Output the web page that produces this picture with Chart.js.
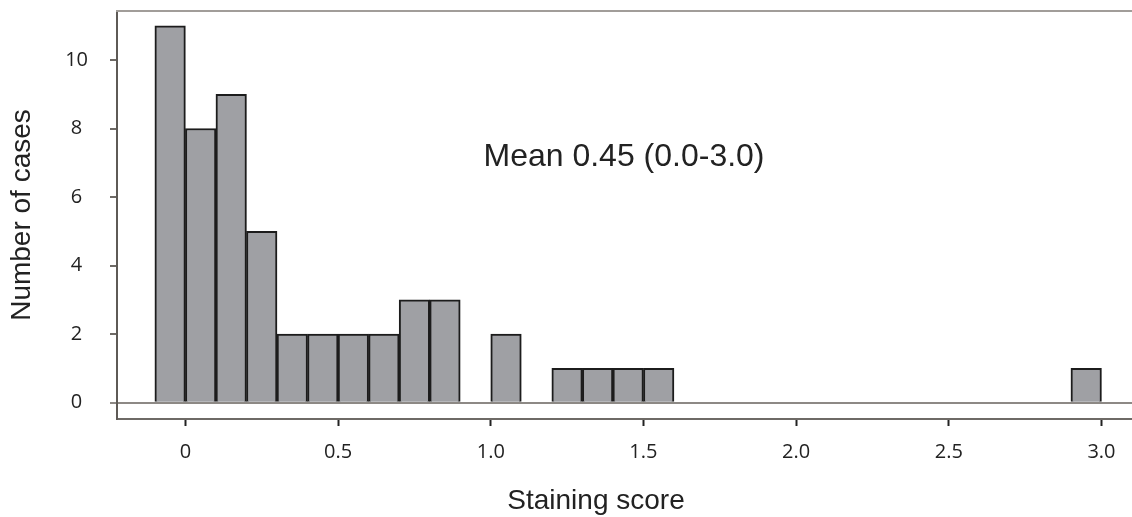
<!DOCTYPE html>
<html>
<head>
<meta charset="utf-8">
<script src="https://cdn.jsdelivr.net/npm/chart.js@4.4.1/dist/chart.umd.min.js"></script>
<style>
  html, body { margin: 0; padding: 0; background: #fff; }
  #wrap { width: 1132px; height: 517px; position: relative; }
</style>
</head>
<body>
<div id="wrap"><canvas id="hist"></canvas></div>
<script>
// histogram bins (left edge of each 0.1-wide bin) and number of cases in it
const binStart = [-0.1, 0, 0.1, 0.2, 0.3, 0.4, 0.5, 0.6, 0.7, 0.8, 1.0, 1.2, 1.3, 1.4, 1.5, 2.9];
const counts = [11, 8, 9, 5, 2, 2, 2, 2, 3, 3, 2, 1, 1, 1, 1, 1];
const binWidth = 0.1;

const xTicks = [0, 0.5, 1.0, 1.5, 2.0, 2.5, 3.0];
const yTicks = [0, 2, 4, 6, 8, 10];

const xTitle = "Staining score";
const yTitle = "Number of cases";
const note = "Mean 0.45 (0.0-3.0)";

const points = binStart.map((s, i) => ({ x: s + binWidth / 2, y: counts[i] }));

// top border of the frame, x title and the mean label
const extras = {
  id: "extras",
  afterDraw(chart) {
    const { ctx, chartArea } = chart;
    ctx.save();
    ctx.strokeStyle = "#a19d99";
    ctx.lineWidth = 2;
    ctx.beginPath();
    ctx.moveTo(chartArea.left - 1, chartArea.top);
    ctx.lineTo(chartArea.right, chartArea.top);
    ctx.stroke();

    ctx.fillStyle = "#222";
    ctx.textAlign = "center";
    ctx.textBaseline = "middle";
    ctx.font = "28px 'Liberation Sans', Arial, sans-serif";
    ctx.fillText(xTitle, 596, 501);

    ctx.font = "32px 'Liberation Sans', Arial, sans-serif";
    ctx.fillText(note, 624, 157);
    ctx.restore();
  }
};

const tickFont = { family: "'Open Sans', sans-serif", size: 20 };

new Chart(document.getElementById("hist"), {
  type: "bar",
  data: {
    datasets: [{
      data: points,
      backgroundColor: "#9fa0a4",
      borderColor: "#1c1c1c",
      borderWidth: 2,
      barPercentage: 1,
      categoryPercentage: 1
    }]
  },
  options: {
    responsive: true,
    maintainAspectRatio: false,
    animation: false,
    layout: { padding: { top: 11, right: 0, bottom: 0, left: 0 } },
    plugins: { legend: { display: false }, tooltip: { enabled: false } },
    scales: {
      x: {
        type: "linear",
        min: -0.224,
        max: 3.1,
        offset: false,
        afterBuildTicks: s => { s.ticks = xTicks.map(v => ({ value: v })); },
        afterFit: s => { s.height = 98; s.paddingLeft = 0; s.paddingRight = 0; },
        ticks: {
          font: tickFont,
          color: "#222",
          padding: 14,
          maxRotation: 0,
          callback: v => (v === 0 ? "0" : v.toFixed(1))
        },
        grid: {
          offset: false,
          drawOnChartArea: false,
          tickLength: 7,
          tickColor: "#222",
          tickWidth: 2
        },
        border: { display: true, color: "#6e6a66", width: 2 }
      },
      y: {
        min: -0.476,
        max: 11.43,
        afterBuildTicks: s => { s.ticks = yTicks.map(v => ({ value: v })); },
        afterFit: s => { s.width = 117; s.paddingTop = 0; s.paddingBottom = 0; },
        ticks: {
          font: tickFont,
          color: "#222",
          padding: 22,
          crossAlign: "center",
          callback: v => String(v)
        },
        grid: {
          tickLength: 7,
          color: c => (c.tick && c.tick.value === 0 ? "#8d8985" : "rgba(0,0,0,0)"),
          tickColor: c => (c.tick && c.tick.value === 0 ? "#8d8985" : "#6e6a66"),
          lineWidth: 2,
          tickWidth: 2
        },
        border: { display: true, color: "#5e5a56", width: 2 },
        title: {
          display: true,
          text: yTitle,
          color: "#222",
          font: { family: "'Liberation Sans', Arial, sans-serif", size: 28 },
          padding: { top: 5, bottom: 0 }
        }
      }
    }
  },
  plugins: [extras]
});
</script>
</body>
</html>
